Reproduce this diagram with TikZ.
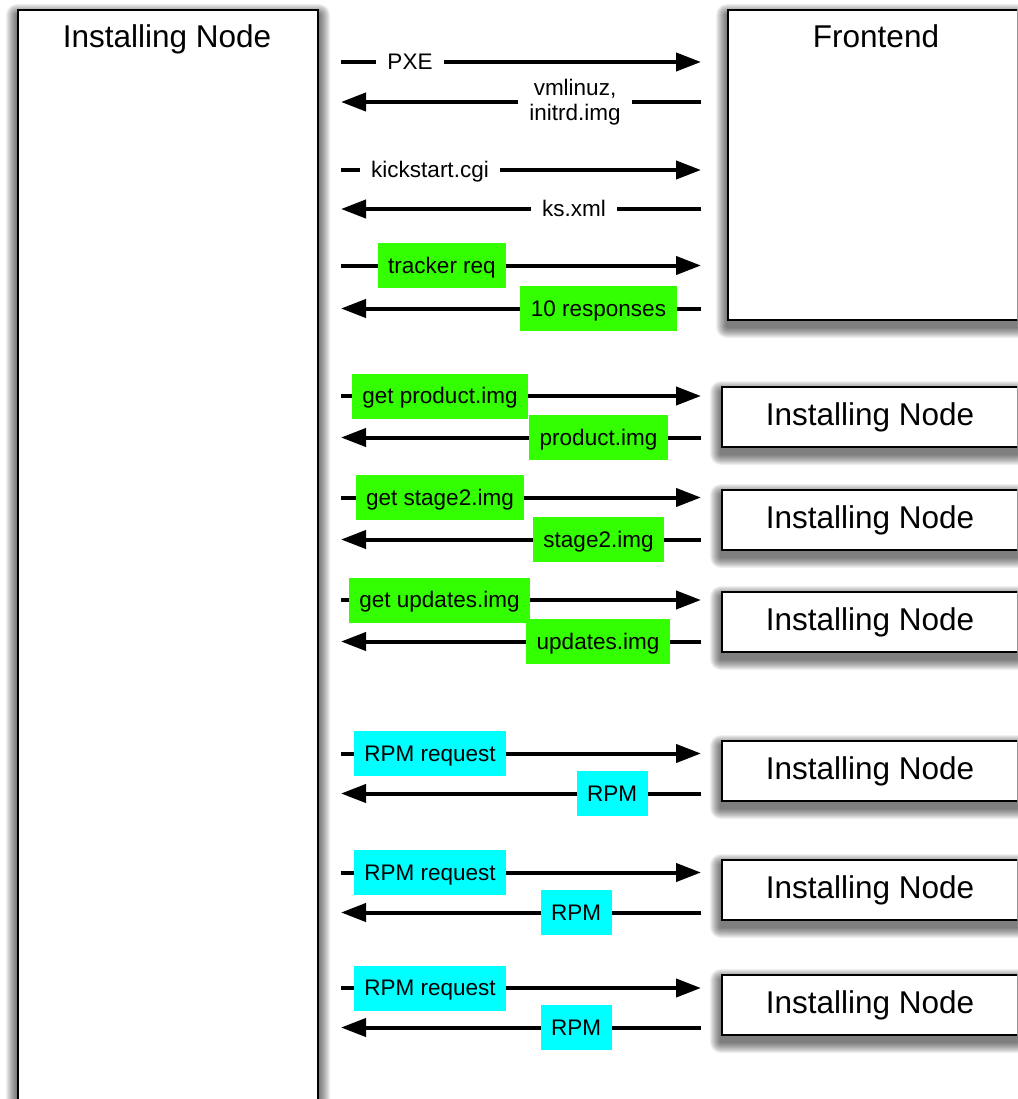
\documentclass[tikz,border=0pt]{standalone}
\usepackage{fontspec}
\setmainfont{Liberation Sans}
\usetikzlibrary{arrows.meta}

\definecolor{imggreen}{RGB}{51,255,0}
\definecolor{rpmcyan}{RGB}{0,255,255}

\pgfdeclarelayer{back}
\pgfdeclarelayer{shade}
\pgfdeclarelayer{wires}
\pgfsetlayers{back,shade,wires,main}

\tikzset{
  panel/.style={draw=black, line width=2pt, fill=white, inner sep=0pt},
  title/.style={font=\fontsize{31.5}{36}\selectfont, inner sep=0pt},
  msg/.style={line width=4pt, -{Triangle[length=25pt,width=18pt]}},
  lbl/.style={font=\fontsize{22.5}{24.5}\selectfont, inner xsep=10.5pt,
    inner ysep=0pt, minimum height=45pt, text height=16pt, text depth=1pt},
  plain/.style={font=\fontsize{22.5}{24.5}\selectfont, fill=white,
    inner xsep=11pt, inner ysep=2pt, align=center},
  oneline/.style={text height=16pt, text depth=1pt},
  grn/.style={lbl, fill=imggreen},
  cyn/.style={lbl, fill=rpmcyan},
  shadowstep/.style={fill=black, opacity=0.06},
}

% soft drop shadow under a panel, built from stacked translucent rectangles
\newcommand\dropshadow[1]{%
  \begin{pgfonlayer}{shade}
    \foreach \r in {1,...,11}{
      \fill[shadowstep, rounded corners=\r pt]
        ([xshift=-\r, yshift={-6-\r}]#1.south west) rectangle
        ([xshift=\r, yshift={-6+\r}]#1.north east);
    }
  \end{pgfonlayer}}

\begin{document}
\begin{tikzpicture}[x=1pt,y=-1pt]
\useasboundingbox (0,0) rectangle (1017,1099);
\begin{pgfonlayer}{back}
  \fill[white] (0,0) rectangle (1017,1099);
\end{pgfonlayer}
\clip (0,0) rectangle (1017,1099);

% hosts
\node[panel, anchor=north west, minimum width=300pt, minimum height=1130pt] (inst) at (17,9) {};
\dropshadow{inst}
\node[title, anchor=base] (instT) at (167,48) {Installing Node};
\node[panel, anchor=north west, minimum width=320pt, minimum height=310pt] (fe) at (727,9) {};
\dropshadow{fe}
\node[title, anchor=base] (feT) at (876,48) {Frontend};

\foreach \i/\y in {1/417, 2/520, 3/622, 4/771, 5/890, 6/1005} {
  \node[panel, anchor=west, minimum width=330pt, minimum height=60pt] (peer\i) at (721,\y) {};
  \dropshadow{peer\i}
  \node[title] (peer\i T) at (870,\y) {Installing Node};
}

% ends of the message arrows
\coordinate (Lx) at (341,0);
\coordinate (Rx) at (701,0);

% message labels
\node[plain, oneline] (pxe) at (410,62) {PXE};
\node[plain] (vml) at (575,102) {vmlinuz,\\initrd.img};
\node[plain, oneline] (kscgi) at (430,170) {kickstart.cgi};
\node[plain, oneline] (ksxml) at (574,209) {ks.xml};
\node[grn] (trk) at (442,265.5) {tracker req};
\node[grn] (resp) at (598.5,308.5) {10 responses};
\node[grn] (gprod) at (440,396) {get product.img};
\node[grn] (prod) at (598.5,437.5) {product.img};
\node[grn] (gst) at (440,497.5) {get stage2.img};
\node[grn] (st) at (598.5,539.5) {stage2.img};
\node[grn] (gupd) at (439.5,600) {get updates.img};
\node[grn] (upd) at (598,641.5) {updates.img};
\node[cyn] (rq1) at (430,753.5) {RPM request};
\node[cyn] (rpm1) at (612,793.5) {RPM};
\node[cyn] (rq2) at (430,872.5) {RPM request};
\node[cyn] (rpm2) at (576,912.5) {RPM};
\node[cyn] (rq3) at (430,988) {RPM request};
\node[cyn] (rpm3) at (576,1027.5) {RPM};

% messages
\begin{pgfonlayer}{wires}
  \foreach \n in {pxe,kscgi,trk,gprod,gst,gupd,rq1,rq2,rq3}
    \draw[msg] (Lx |- \n) -- (Rx |- \n);
  \foreach \n in {vml,ksxml,resp,prod,st,upd,rpm1,rpm2,rpm3}
    \draw[msg] (Rx |- \n) -- (Lx |- \n);
\end{pgfonlayer}
\end{tikzpicture}
\end{document}
